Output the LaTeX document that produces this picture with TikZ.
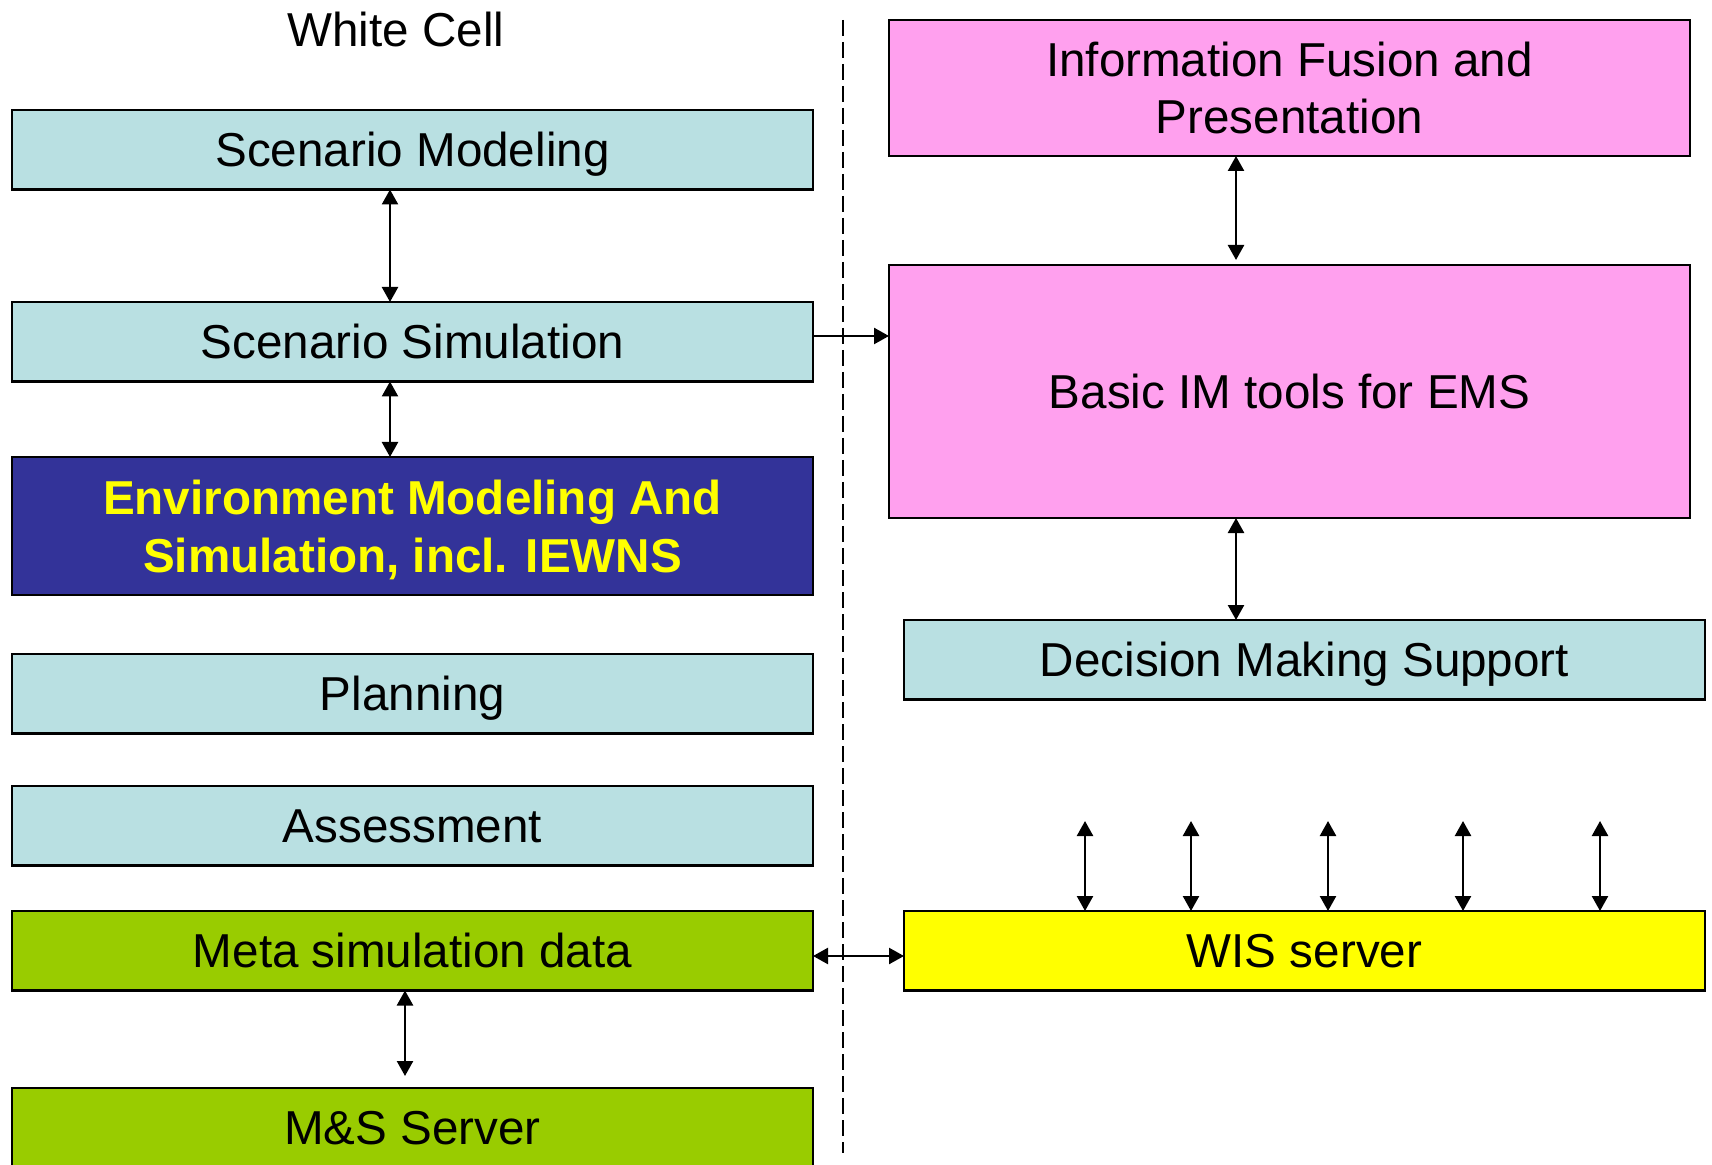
\documentclass[tikz,border=0pt]{standalone}
\usepackage{fontspec}
\setmainfont{Liberation Sans}
\usetikzlibrary{arrows.meta}
\definecolor{lb}{RGB}{185,224,226}
\definecolor{dkblue}{RGB}{51,51,153}
\definecolor{grn}{RGB}{153,204,0}
\definecolor{pnk}{RGB}{255,160,238}
\definecolor{ylw}{RGB}{255,255,0}
\definecolor{txtyellow}{RGB}{255,255,0}
\tikzset{
  box/.style={draw=black, line width=1.4pt, inner sep=0pt, outer sep=0pt, anchor=north west,
    font=\fontsize{23.8pt}{29pt}\selectfont, align=center},
  one/.style={text height=17pt, text depth=0pt},
  narrow/.style={minimum width=400.5pt},
  sh/.style={minimum height=39.75pt},
  biarr/.style={line width=1.2pt, {Triangle[length=7.5pt,width=8pt]}-{Triangle[length=7.5pt,width=8pt]}},
  onearr/.style={line width=1.2pt, -{Triangle[length=7.5pt,width=8pt]}},
  sep/.style={line width=1pt, dash pattern=on 8pt off 3pt}
}
\begin{document}
\begin{tikzpicture}[x=0.5pt,y=-0.5pt]
\useasboundingbox (0,0) rectangle (1712,1165);
\clip (0,0) rectangle (1712,1165);
% title
\node[font=\fontsize{23.8pt}{29pt}\selectfont, text height=17pt, text depth=0pt, inner sep=0pt] (wc) at (396,30) {White Cell};
% left column
\node[box, one, narrow, sh, fill=lb] (sm) at (12,110) {Scenario Modeling};
\node[box, one, narrow, sh, fill=lb] (ss) at (12,302) {Scenario Simulation};
\node[box, narrow, minimum height=69pt, fill=dkblue, text=txtyellow, text depth=0pt, font=\fontsize{23.8pt}{29pt}\selectfont\bfseries] (env) at (12,457) {Environment Modeling And\\Simulation, incl. IEWNS};
\node[box, one, narrow, sh, fill=lb] (plan) at (12,654) {Planning};
\node[box, one, narrow, sh, fill=lb] (assess) at (12,786) {Assessment};
\node[box, one, narrow, sh, fill=grn] (meta) at (12,911) {Meta simulation data};
\node[box, one, narrow, sh, fill=grn] (ms) at (12,1088) {M\&S Server};
% right column
\node[box, narrow, minimum height=68pt, fill=pnk, font=\fontsize{23.8pt}{28.5pt}\selectfont] (info) at (889,20) {Information Fusion and\\Presentation};
\node[box, one, narrow, minimum height=126.5pt, fill=pnk] (basic) at (889,265) {Basic IM tools for EMS};
\node[box, one, narrow, sh, fill=lb] (dms) at (904,620) {Decision Making Support};
\node[box, one, narrow, sh, fill=ylw] (wis) at (904,911) {WIS server};
% separator
\coordinate (d1) at (843,20);
\coordinate (d2) at (843,1153);
\draw[sep] (d1) -- (d2);
% connector helper coordinates
\coordinate (xl) at (390,0);
\coordinate (xm) at (405,0);
\coordinate (msa) at (405,1076);
\coordinate (xr) at (1236,0);
\coordinate (bt) at (1236,260);
\coordinate (dt) at (1236,620);
\coordinate (yh) at (0,336);
\coordinate (ym) at (0,956);
% connectors
\draw[biarr] (sm.south -| xl) -- (ss.north -| xl);
\draw[biarr] (ss.south -| xl) -- (env.north -| xl);
\draw[biarr] (meta.south -| xm) -- (msa);
\draw[onearr] (ss.east |- yh) -- (basic.west |- yh);
\draw[biarr] (meta.east |- ym) -- (wis.west |- ym);
\draw[biarr] (info.south -| xr) -- (bt);
\draw[biarr] (basic.south -| xr) -- (dt);
% WIS server arrows
\foreach \i/\x in {1/1085,2/1191,3/1328,4/1463,5/1600}{
  \coordinate (w\i) at (\x,821);
  \draw[biarr] (w\i) -- (wis.north -| w\i);
}
\end{tikzpicture}
\end{document}
